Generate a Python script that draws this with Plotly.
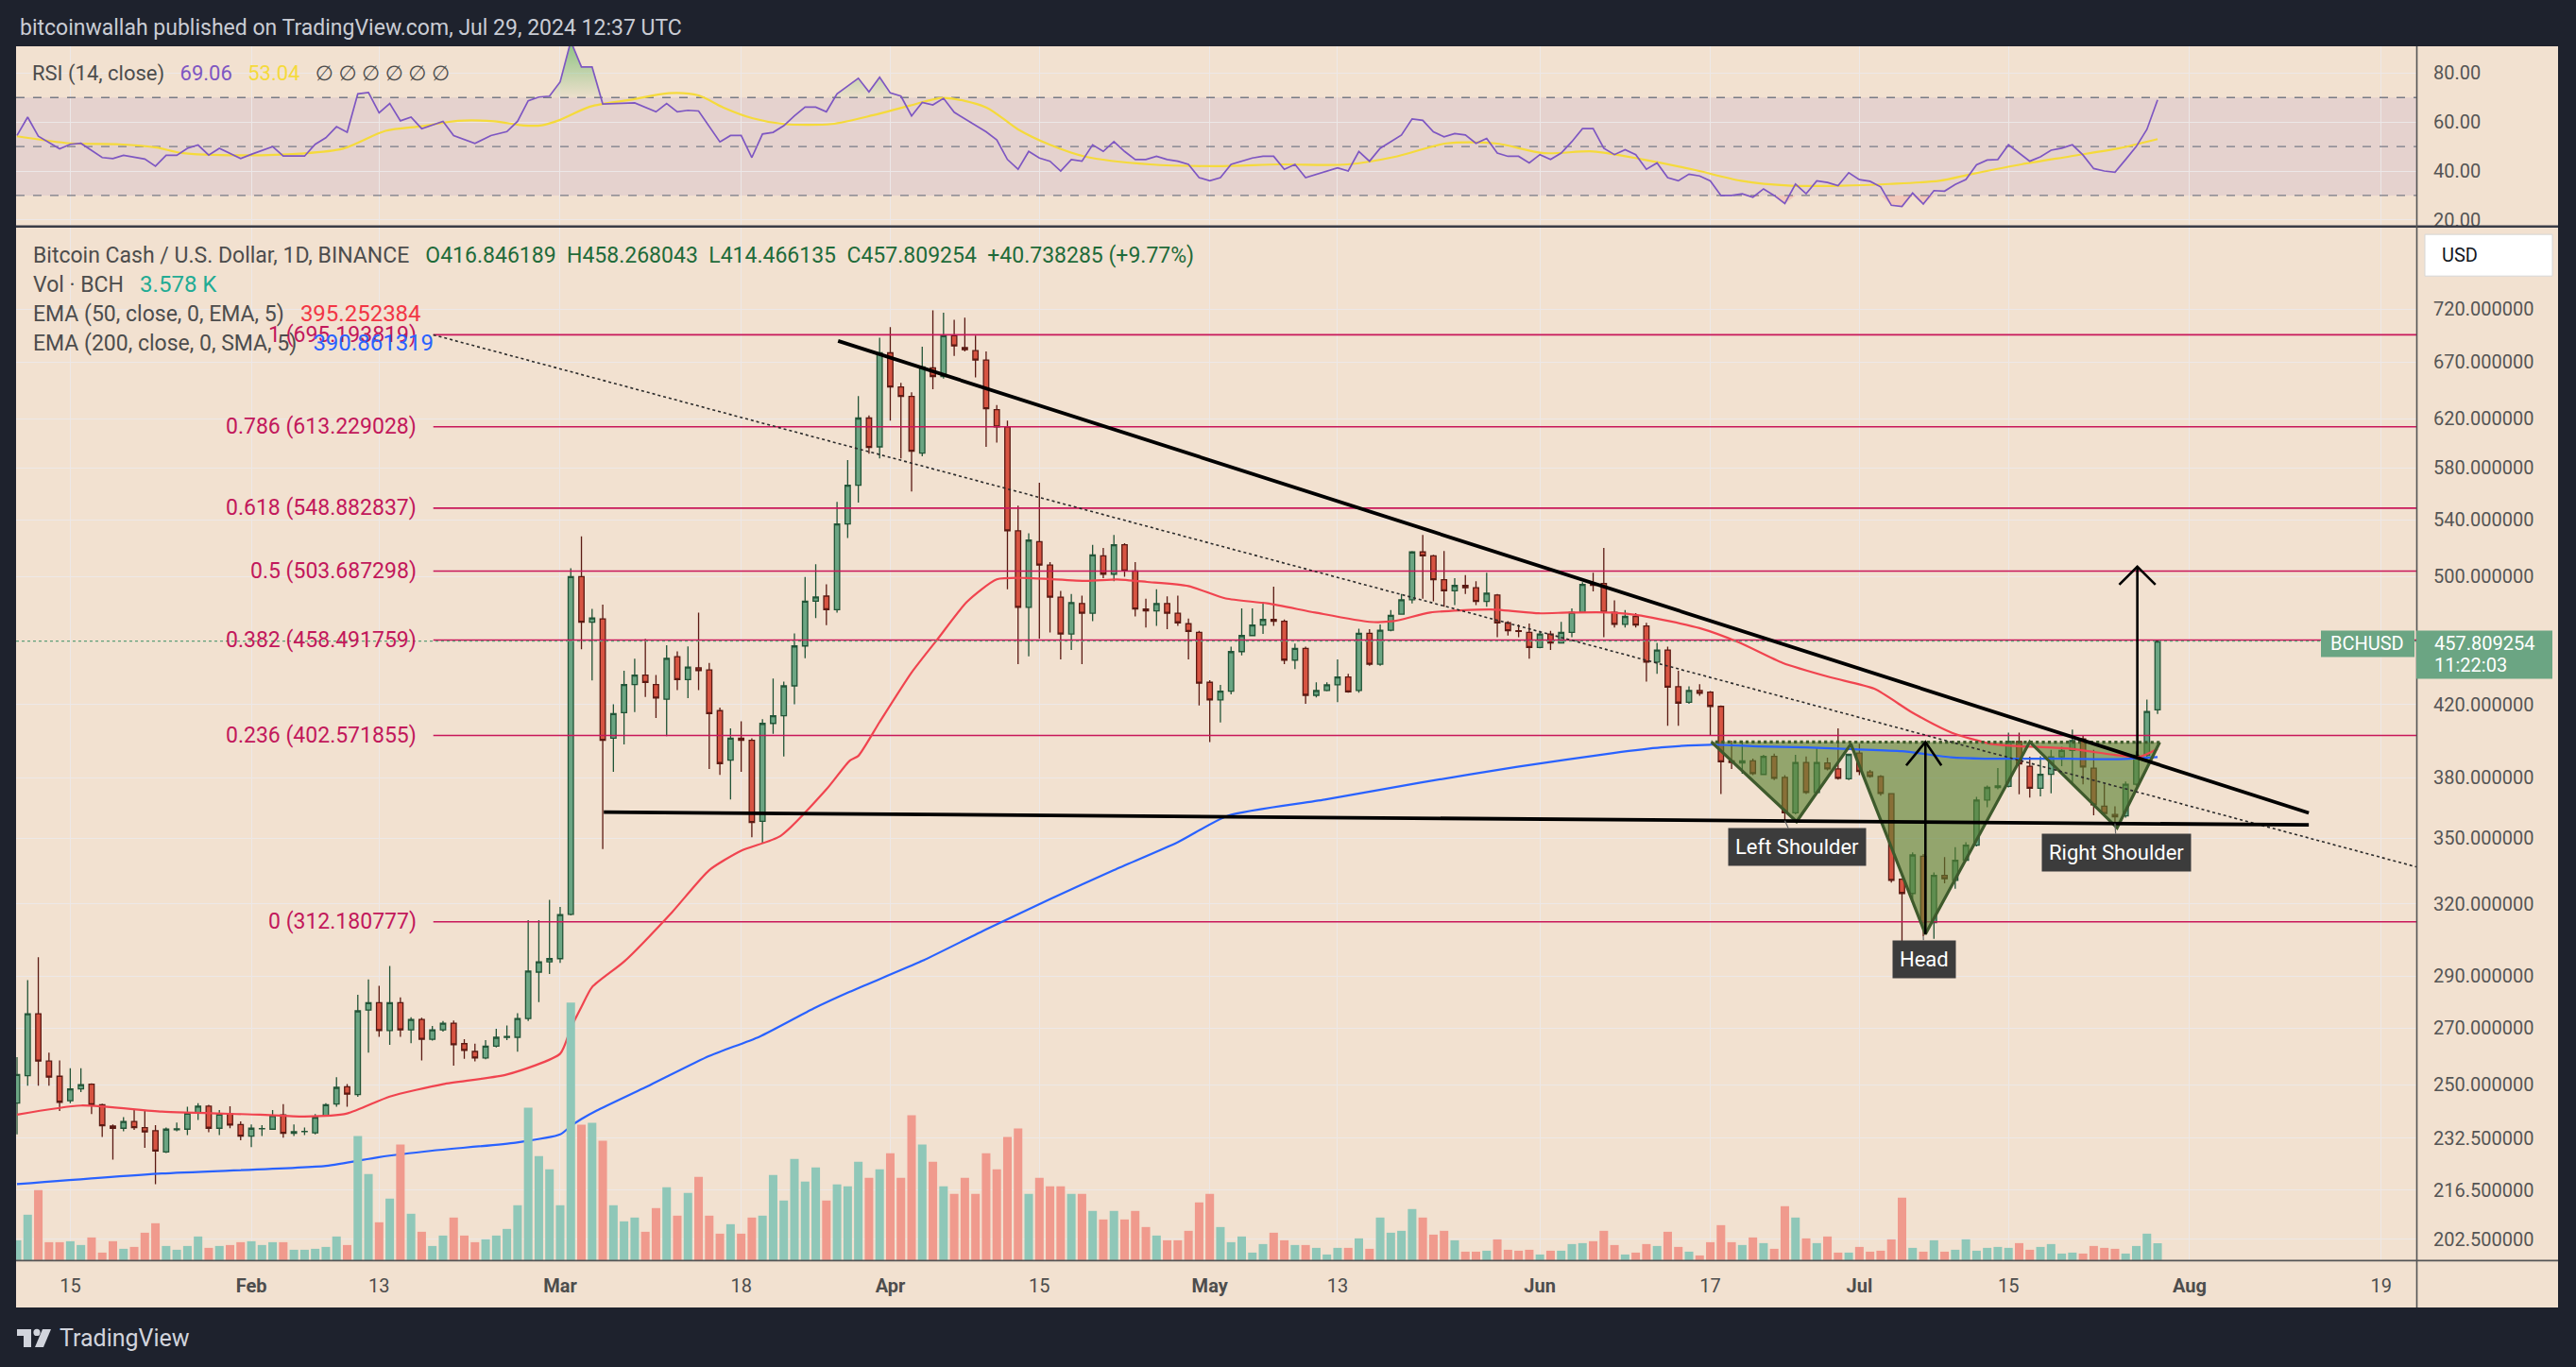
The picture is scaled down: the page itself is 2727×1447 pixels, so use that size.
import math
import pandas as pd
import plotly.graph_objects as go

W, H = 2727, 1447
H_FIG = 1455          # figure height; positions below are expressed on the 1447-px target grid
BG = "#F2E1D0"
FRAME = "#1E222D"
FONT = "Roboto, 'Noto Sans', 'DejaVu Sans', sans-serif"
BASE = pd.Timestamp("2024-01-15")

# ------------------------------------------------------------------ data
dates = pd.date_range("2024-01-10", "2024-07-29", freq="D")

opens = [
    243.8, 253.1, 275.4, 258.2, 252.9, 244.6, 248.6, 250.2, 243.3, 236.3, 235.6, 237.8, 235.8, 234.8, 228.1, 235.1, 235.3, 240.5, 242.8, 235.6, 240.2, 236.8,
    233.1, 235.4, 235.3, 239.9, 234.0, 234.5, 234.1, 239.7, 243.5, 249.3, 246.7, 276.8, 279.6, 269.2, 279.6, 269.4, 273.3, 266.0, 269.4, 271.9, 264.4, 261.6, 259.3, 263.5, 266.7, 266.7, 273.6, 291.5, 295.6,
    296.9, 315.4, 499.9, 469.8, 471.9, 401.1, 415.2, 431.5, 437.1, 431.5, 422.9, 448.2, 434.4, 441.4, 440.2, 416.4, 389.2, 401.1, 399.9, 358.1, 409.2, 413.5, 430.7, 454.8, 483.4, 486.8, 477.9, 537.1, 566.2, 620.6, 596.7,
    678.3, 647.5, 639.2, 591.6, 664.5, 656.8, 694.4, 683.2, 680.3, 671.7, 627.7, 613.1, 532.1, 479.4, 524.3, 507.8, 486.1, 462.3, 481.9, 475.6, 514.3, 501.6, 522.1, 503.8, 478.3, 477.1, 481.9, 475.6, 468.8, 463.3,
    432.8, 422.5, 427.6, 451.3, 461.3, 468.0, 471.5, 470.4, 446.1, 453.3, 425.2, 428.0, 431.3, 436.0, 428.0, 462.7, 443.6, 464.7, 475.0, 484.4, 517.0, 514.3, 497.8, 490.3, 493.9, 492.4, 483.3, 487.5, 469.4, 464.3, 463.3,
    453.9, 462.3, 456.7, 463.3, 476.2, 494.6, 495.3, 476.2, 468.4, 473.5, 467.4, 444.9, 452.3, 430.2, 421.2, 428.0, 427.1, 418.8, 388.8, 387.7, 388.8, 381.7, 391.2, 380.2, 362.2, 388.0, 372.4, 387.7, 384.6, 379.4,
    393.0, 383.0, 380.7, 371.8, 330.9, 324.5, 341.4, 311.9, 332.6, 330.4, 339.5, 346.6, 368.6, 375.0, 375.5, 399.3, 386.0, 374.6, 381.8, 391.0, 394.4, 400.6, 385.0, 365.5, 361.4, 360.7, 376.6, 391.9, 416.846189,
]
highs = [
    259.6, 288.3, 297.5, 261.2, 258.4, 255.7, 255.7, 250.5, 243.6, 236.8, 239.2, 241.5, 241.5, 236.6, 235.8, 237.4, 242.6, 243.8, 243.2, 241.5, 242.8, 237.8,
    236.8, 236.6, 241.5, 243.5, 236.8, 235.8, 240.2, 243.8, 252.6, 250.2, 282.6, 288.6, 286.1, 294.0, 281.6, 274.1, 273.9, 270.9, 272.7, 272.9, 266.0, 264.4, 265.7, 269.8, 271.0, 275.6, 312.9, 312.9, 321.7,
    318.6, 505.7, 528.2, 478.4, 481.2, 420.0, 439.7, 446.9, 459.2, 437.1, 455.3, 451.5, 454.5, 476.0, 444.4, 418.1, 406.4, 410.4, 401.0, 411.6, 435.1, 433.2, 462.6, 499.6, 508.4, 494.7, 553.5, 586.1, 639.5, 622.9, 692.4,
    702.6, 651.1, 642.8, 684.1, 718.7, 716.6, 709.6, 711.7, 694.4, 679.7, 631.8, 618.4, 550.7, 530.3, 568.2, 509.9, 490.3, 488.2, 487.1, 522.1, 519.8, 529.2, 523.2, 509.9, 485.0, 491.4, 486.7, 487.1, 472.1, 464.3,
    434.1, 431.3, 454.3, 478.7, 478.7, 482.9, 493.1, 471.5, 456.3, 454.3, 432.8, 432.8, 446.5, 437.9, 465.7, 465.3, 468.4, 477.7, 488.2, 517.7, 529.2, 515.0, 517.7, 498.8, 501.0, 496.7, 502.5, 488.2, 470.4, 468.4, 469.0,
    464.3, 464.3, 470.0, 478.7, 496.1, 502.5, 519.8, 484.0, 477.7, 475.6, 469.4, 456.7, 454.3, 439.7, 430.4, 431.7, 427.7, 419.4, 399.7, 399.7, 390.0, 392.0, 392.7, 381.3, 392.0, 391.2, 396.0, 390.5, 406.4, 392.7,
    398.0, 384.0, 381.3, 372.1, 331.1, 343.2, 342.4, 334.0, 341.0, 345.7, 348.0, 370.2, 376.0, 385.0, 404.1, 404.1, 391.0, 391.3, 394.7, 396.4, 405.8, 402.4, 394.7, 376.6, 365.5, 378.0, 393.9, 422.8, 458.268043,
]
lows = [
    233.6, 249.7, 249.7, 249.7, 241.2, 243.8, 247.5, 240.2, 232.8, 225.7, 234.6, 235.1, 229.4, 218.3, 227.8, 234.6, 233.4, 238.3, 234.3, 233.4, 235.6, 231.8,
    229.6, 233.1, 235.1, 232.6, 233.1, 233.4, 233.6, 239.5, 242.6, 242.6, 245.9, 261.2, 266.9, 264.0, 266.9, 264.6, 258.4, 265.5, 268.8, 256.6, 259.0, 258.1, 258.8, 263.0, 265.7, 261.5, 272.7, 279.8, 290.8,
    295.2, 314.9, 452.7, 433.9, 344.8, 383.1, 397.6, 415.6, 424.2, 412.3, 402.2, 428.2, 423.6, 428.2, 384.6, 381.5, 368.9, 383.1, 350.4, 347.3, 403.4, 391.2, 420.0, 447.2, 472.5, 467.9, 476.0, 526.9, 553.0, 591.1, 587.3,
    618.4, 587.3, 561.4, 589.0, 645.5, 655.0, 675.4, 679.7, 656.0, 596.7, 600.1, 491.4, 443.6, 448.4, 459.3, 463.3, 446.5, 452.3, 443.6, 470.4, 498.8, 496.7, 499.9, 473.5, 466.4, 467.4, 465.3, 467.4, 446.5, 419.4,
    398.9, 409.7, 425.8, 449.0, 461.0, 462.3, 467.4, 443.6, 440.7, 420.3, 423.9, 427.6, 421.2, 426.7, 426.7, 442.6, 442.6, 464.0, 474.5, 481.9, 485.0, 483.3, 479.8, 480.8, 488.2, 480.8, 479.8, 460.3, 461.3, 460.3, 446.9,
    453.3, 452.3, 456.3, 460.3, 475.6, 490.0, 460.3, 466.4, 466.4, 466.4, 433.2, 437.9, 407.9, 407.9, 420.3, 424.9, 402.7, 371.6, 384.6, 382.1, 381.3, 381.3, 378.8, 358.3, 361.5, 371.6, 372.0, 383.8, 379.0, 378.8,
    381.3, 380.0, 370.8, 329.4, 289.6, 322.0, 306.0, 305.0, 329.0, 326.6, 339.0, 346.0, 365.0, 374.0, 375.0, 371.5, 369.8, 370.5, 372.0, 386.0, 377.0, 376.6, 361.0, 361.4, 357.0, 359.9, 375.8, 389.7, 414.466135,
]
closes = [
    253.5, 275.4, 258.2, 252.6, 244.1, 248.6, 250.0, 243.3, 236.4, 235.6, 237.8, 235.8, 234.4, 228.4, 235.3, 235.4, 240.5, 242.8, 235.6, 240.2, 236.6, 233.1,
    235.6, 235.5, 239.7, 234.0, 234.5, 234.6, 239.2, 243.3, 249.1, 246.8, 276.5, 279.6, 269.2, 279.6, 269.4, 273.3, 266.0, 269.4, 271.9, 264.0, 262.0, 259.3, 263.5, 266.7, 267.0, 273.6, 291.9, 295.6, 296.9,
    315.3, 499.9, 469.8, 472.5, 399.9, 414.7, 431.5, 437.1, 432.7, 423.6, 447.2, 434.4, 441.9, 439.7, 414.7, 387.4, 401.1, 399.9, 357.5, 409.2, 413.5, 430.7, 454.8, 483.4, 486.2, 477.9, 537.1, 566.2, 620.6, 596.2, 678.3,
    647.5, 639.2, 593.1, 665.4, 656.8, 694.4, 684.7, 681.2, 671.7, 628.5, 613.1, 532.1, 479.4, 525.4, 507.8, 486.1, 462.3, 482.5, 475.6, 515.0, 501.6, 522.1, 503.8, 478.3, 477.1, 481.9, 475.6, 469.4, 463.9, 432.3,
    422.5, 427.6, 451.3, 461.3, 468.0, 471.5, 470.4, 446.1, 453.3, 425.2, 428.0, 431.3, 436.0, 427.2, 462.7, 443.6, 464.7, 474.2, 484.4, 517.0, 514.3, 497.8, 490.3, 493.9, 492.4, 483.3, 488.8, 469.4, 464.3, 463.9, 453.9,
    462.3, 456.7, 463.3, 476.2, 494.6, 494.0, 476.2, 468.4, 473.5, 468.0, 444.9, 452.3, 429.9, 420.7, 428.0, 426.4, 418.8, 388.3, 388.0, 388.8, 382.1, 391.2, 379.7, 362.2, 388.0, 372.4, 388.0, 384.6, 379.7, 392.3,
    383.3, 380.7, 371.9, 330.4, 324.5, 342.0, 311.9, 332.6, 331.1, 339.5, 346.6, 368.6, 375.0, 375.8, 399.3, 387.2, 374.6, 381.8, 391.0, 394.4, 399.8, 385.6, 366.2, 361.9, 360.3, 376.6, 391.9, 415.9, 457.809254,
]
volumes_k = [
    4.2, 9.6, 14.8, 3.8, 3.8, 4.0, 3.2, 4.8, 1.6, 4.0, 2.4, 2.8, 5.8, 7.8, 3.0, 2.2, 3.0, 5.0, 2.6, 3.0, 3.2, 3.8,
    4.0, 3.2, 3.8, 3.8, 2.2, 2.2, 2.4, 2.8, 5.0, 3.2, 26.2, 18.2, 8.0, 13.0, 24.4, 9.8, 6.0, 3.0, 5.2, 9.0, 5.2, 3.8, 4.4, 5.2, 6.6, 11.6, 32.2, 22.0, 19.2,
    11.6, 54.4, 28.6, 29.0, 25.2, 11.6, 8.2, 9.0, 6.0, 11.0, 15.4, 9.4, 14.2, 17.6, 9.4, 5.6, 7.6, 5.6, 9.0, 9.4, 18.0, 12.6, 21.4, 16.6, 19.6, 12.6, 16.0, 15.6, 20.8, 17.4, 19.2,
    22.6, 17.4, 30.6, 24.4, 20.8, 15.6, 14.0, 17.4, 14.0, 22.6, 19.2, 26.0, 27.8, 14.0, 17.4, 15.6, 15.6, 14.0, 14.0, 10.4, 8.6, 10.4, 8.6, 10.4, 7.0, 5.2, 4.2, 4.2, 6.2, 12.2,
    14.0, 7.0, 3.8, 5.0, 1.6, 3.4, 5.8, 4.2, 3.2, 3.2, 2.6, 1.2, 2.6, 2.6, 4.6, 2.4, 9.0, 5.8, 6.2, 10.8, 9.0, 5.4, 6.2, 4.2, 1.8, 1.8, 2.0, 4.4, 2.2, 2.0, 2.2,
    1.2, 2.0, 2.0, 3.4, 3.6, 4.0, 6.2, 3.2, 1.2, 1.6, 3.4, 3.0, 6.0, 2.8, 1.8, 1.0, 3.8, 7.4, 3.8, 3.2, 4.8, 3.6, 2.4, 11.4, 9.0, 4.6, 3.6, 5.0, 1.6, 1.6,
    2.8, 1.8, 2.0, 4.4, 13.2, 2.6, 1.8, 4.2, 1.8, 2.2, 4.4, 2.0, 2.6, 2.8, 2.6, 3.6, 2.2, 2.8, 3.4, 1.4, 1.6, 1.4, 3.0, 2.6, 2.4, 1.4, 3.0, 5.6, 3.578,
]

# indicator lines (day offset from 15 Jan 2024, value)
ema50_day = [-5, 1, 8.6, 17.8, 22, 26, 30, 35, 41, 46, 47, 48, 49, 52, 56.5, 60, 63, 66.7, 71, 73.2, 74, 76, 79, 81.4, 84.2, 87, 89.8,
             95.4, 98.3, 101.1, 105, 108.5, 112.4, 116.9, 122, 124.3, 127.7, 133.4, 137.9, 140.7, 144.7, 147.5, 153, 156.7, 160.8,
             165.3, 169.4, 173, 176.7, 180.3, 183, 187.5, 192, 194.3, 196]
ema50_val = [240, 243, 241, 240, 239.4, 240.4, 246, 250.2, 253.5, 260.8, 270, 278, 285.6, 295.7, 316.3, 335, 344, 351, 374, 389, 391.5, 410, 438.6, 458.7, 483, 498, 499,
             497, 498, 496.3, 493.5, 485.2, 482, 476, 470, 470.5, 476, 478, 475.5, 476, 476, 474, 466, 457, 444.4,
             435.7, 429, 415.2, 404, 398, 396.7, 395.5, 392, 391, 395.25]
ema200_day = [-5, 8.6, 24, 29, 34, 41.8, 46, 47, 48, 49.4, 54.5, 60, 64.7, 69.8, 73.2, 80, 86, 92, 98, 104, 108.7, 117.8, 126.8,
              135.9, 144.9, 149.4, 154, 158.5, 163, 167.6, 172, 176.6, 179.7, 187.5, 192, 196]
ema200_val = [218.3, 221.5, 223.8, 226.5, 228.5, 231, 233.6, 236.3, 238.6, 241.3, 250, 260, 266.9, 277.4, 283.8, 296, 309, 322, 335, 348, 360.8, 368.8, 377.5,
              385.7, 393, 396, 397.5, 396.6, 396, 395, 394, 390.7, 390, 390, 389.7, 390.86]

rsi_day = [-5, -4, -3, -1, 0, 1, 3, 4, 5, 7, 8, 9, 10, 11, 12, 13, 14, 16, 17, 19, 20, 22, 23, 24, 25, 26, 27, 28, 29, 30, 31, 32, 33,
           35, 36, 38, 39.5, 41, 42, 43, 44, 45, 46, 47, 48, 49, 50, 52, 53, 55, 56, 57, 58, 59, 61, 62, 63, 64, 65, 66, 67, 68, 69,
           70, 71, 72, 74, 75, 76, 77, 78, 79, 80, 81, 82, 83, 84, 86, 87, 88, 89, 90, 91, 92, 93, 94, 95, 96, 97, 98, 99, 100,
           101, 102, 103, 104, 105, 106, 107, 108, 109, 110, 111, 112, 113, 114, 115, 116, 117, 118, 119, 120, 121, 122, 123, 124,
           125, 126, 127, 128, 129, 130, 131, 132, 133, 134, 135, 136, 137, 138, 139, 140, 141, 142, 143, 144, 145, 146, 147, 148,
           149, 150, 151, 152, 153, 154, 155, 156, 157, 158, 159, 160, 161, 162, 163, 164, 165, 166, 167, 168, 169, 170, 171, 172,
           173, 174, 175, 176, 177, 178, 179, 180, 181, 182, 183, 184, 185, 186, 187, 188, 189, 190, 191, 192, 193, 194, 195, 196]
rsi_val = [54.5, 62, 54.2, 49.1, 50.9, 51.3, 45.5, 45.1, 46.4, 44.9, 42, 46.4, 46.4, 49.3, 50.6, 46.5, 49.3, 45.1, 46.8, 50, 46.1, 46.1, 50.9, 53.6, 58.1, 55.8, 71.5, 72.1, 63.8, 67.6, 60.5, 62, 57.3,
           60.3, 54.5, 51.3, 54.5, 56.1, 60.3, 68.7, 70.2, 70.6, 76.4, 93, 82.5, 82.5, 67.4, 67.6, 67.8, 64.2, 67.6, 64.2, 64.8, 64.5, 51.9, 54.5, 54.5, 45.5, 55.1, 55.8, 58.5, 62.5, 66.1,
           66.1, 64.2, 71.5, 77.9, 72.3, 78.3, 71.9, 70.6, 62.5, 68, 67, 69.7, 64, 61.3, 56, 52.7, 44.7, 40.7, 48, 45.3, 44, 40, 44.7, 44, 50.7, 48, 52, 48, 44.7,
           44.7, 46, 44.7, 44, 42.7, 37.3, 36, 37.3, 42.7, 44, 45.3, 46, 46, 40.7, 42.7, 37.3, 38.7, 40, 41.3, 40, 48, 44, 49.3, 52,
           54.7, 61.3, 60.7, 56, 54, 55.3, 54.7, 51.3, 53.3, 47.3, 46, 46, 43.3, 46.7, 44.7, 47.3, 52, 57.3, 57.3, 49.3, 46.7, 48.7, 46.7, 40.7,
           43.3, 37.3, 36, 38.7, 38, 36, 30, 30, 30.7, 29.3, 32.7, 30, 26.7, 34.7, 30.7, 36, 35.3, 34, 39.3, 36.5, 35.8, 33.5, 26, 25.5,
           31, 26.5, 32, 31.8, 34.5, 36.5, 42.5, 44.5, 44.7, 50.7, 47.3, 44, 45.8, 48.5, 49.3, 50.7, 46.5, 41, 40, 39.5, 44.7, 50, 57, 69.06]
rsima_day = [-5, 0, 4.6, 8.1, 10.4, 16, 21.6, 25.6, 29.6, 33, 36.4, 39.8, 42.6, 44.3, 46, 48.8, 52.8, 56.2, 59, 61.3, 64.1, 67, 71.5,
             75.4, 78.8, 82, 86, 89, 92, 95.2, 101.4, 107.6, 113.7, 119.9, 124.6, 129.2, 133.8, 138.4, 143, 147.7, 152.3, 156.9,
             161.6, 166.2, 170.8, 175.5, 178.5, 183.2, 187.8, 192.4, 196]
rsima_val = [54.2, 51.3, 50.9, 49.6, 47.4, 46.4, 47.1, 49.1, 56.4, 58.3, 60.5, 60.3, 58.6, 58.7, 60.9, 66.3, 69.2, 71.8, 70.9, 66, 61.5, 59.2, 59.2,
             62.8, 66.7, 69.9, 66, 57, 50.7, 46, 42.7, 42, 42.7, 42.7, 46, 51.3, 51.3, 47.3, 48, 44.7, 40.7, 36,
             34, 34, 34.7, 36, 38.7, 42.7, 46, 49.3, 53.04]

fib_ratio = ["1", "0.786", "0.618", "0.5", "0.382", "0.236", "0"]
fib_price = [695.193819, 613.229028, 548.882837, 503.687298, 458.491759, 402.571855, 312.180777]

price_ticks = [720, 670, 620, 580, 540, 500, 420, 380, 350, 320, 290, 270, 250, 232.5, 216.5, 202.5]
rsi_ticks = [20, 40, 60, 80]
rsi_bands = [70, 50, 30]
time_ticks = ["2024-01-15", "2024-02-01", "2024-02-13", "2024-03-01", "2024-03-18", "2024-04-01", "2024-04-15",
              "2024-05-01", "2024-05-13", "2024-06-01", "2024-06-17", "2024-07-01", "2024-07-15", "2024-08-01", "2024-08-19"]
time_labels = ["15", "<b>Feb</b>", "13", "<b>Mar</b>", "18", "<b>Apr</b>", "15", "<b>May</b>", "13", "<b>Jun</b>", "17",
               "<b>Jul</b>", "15", "<b>Aug</b>", "19"]

# drawings (day offset from 15 Jan, price)
desc_day, desc_price = [72.1, 210.2], [689.4, 362.2]
neck_day, neck_price = [50.1, 210.2], [362.6, 356.3]
diag_day, diag_price = [34.09, 220.3], [695.193819, 336.5]
hs_day = [154.1, 162.1, 167.2, 174.2, 184.0, 192.2, 196.2]
hs_price = [399.0, 357.9, 397.8, 307.0, 399.0, 354.9, 398.8]
arrow1_day, arrow1_price = [174.2, 174.2], [307.0, 399.0]
head1_day, head1_price = [172.4, 174.2, 175.7], [386.4, 399.0, 386.4]
arrow2_day, arrow2_price = [194.1, 194.1], [391.5, 506.8]
head2_day, head2_price = [192.4, 194.1, 195.8], [494.5, 506.8, 494.5]
labels_text = ["Left Shoulder", "Head", "Right Shoulder"]
labels_day = [161, 174, 192]
labels_price = [358.3, 306.0, 357.0]

last_close = 457.809254
X_LEFT_DAY, X_RIGHT_DAY = -5.09, 220.3


# ------------------------------------------------------------------ helpers
def t(d):
    return BASE + pd.Timedelta(seconds=int(round(86400 * d)))


def ts(days):
    return [t(d) for d in days]


def px(x, y):
    return x / W, 1 - y / H


def note(x, y, text, size=19, color="#4d4d4d", xanchor="left", yanchor="middle", **kw):
    xx, yy = px(x, y)
    return dict(x=xx, y=yy, xref="paper", yref="paper", text=text, showarrow=False,
                xanchor=xanchor, yanchor=yanchor, font=dict(family=FONT, size=size, color=color), **kw)


def rect(x0, y0, x1, y1, fill, line=None, layer="below"):
    a0, b0 = px(x0, y0)
    a1, b1 = px(x1, y1)
    return dict(type="rect", xref="paper", yref="paper", x0=a0, y0=b1, x1=a1, y1=b0,
                fillcolor=fill, line=dict(width=0) if line is None else line, layer=layer)


def hline_px(x0, x1, y, color, width):
    a0, b = px(x0, y)
    a1, _ = px(x1, y)
    return dict(type="line", xref="paper", yref="paper", x0=a0, x1=a1, y0=b, y1=b,
                line=dict(color=color, width=width), layer="above")


def vline_px(x, y0, y1, color, width):
    a, b0 = px(x, y0)
    _, b1 = px(x, y1)
    return dict(type="line", xref="paper", yref="paper", x0=a, x1=a, y0=b0, y1=b1,
                line=dict(color=color, width=width), layer="above")


fig = go.Figure()

# volume
vol_colors = ["#8FC7B8" if c >= o else "#F09A8D" for o, c in zip(opens, closes)]
fig.add_trace(go.Bar(x=dates, y=volumes_k, marker=dict(color=vol_colors, line=dict(width=0)),
                     width=0.8 * 86400000, xaxis="x", yaxis="y3", hoverinfo="skip"))

# fib levels
for r, p in zip(fib_ratio, fib_price):
    fig.add_trace(go.Scatter(x=[t(34.09), t(X_RIGHT_DAY)], y=[p, p], mode="lines",
                             line=dict(color="#C8175A", width=1.6), hoverinfo="skip"))

# pattern polygon
fig.add_trace(go.Scatter(x=ts(hs_day + [hs_day[0]]), y=hs_price + [hs_price[0]], mode="lines",
                         fill="toself", fillcolor="rgba(88,128,48,0.62)", line=dict(width=0), hoverinfo="skip"))

# candles
fig.add_trace(go.Candlestick(
    x=dates, open=opens, high=highs, low=lows, close=closes,
    increasing=dict(line=dict(color="#225437", width=1.3), fillcolor="#6BA583"),
    decreasing=dict(line=dict(color="#5B1A13", width=1.3), fillcolor="#D75442"),
    whiskerwidth=0, hoverinfo="skip"))

# EMAs
fig.add_trace(go.Scatter(x=ts(ema200_day), y=ema200_val, mode="lines", line=dict(color="#2962FF", width=2.2, shape="spline", smoothing=0.6), hoverinfo="skip"))
fig.add_trace(go.Scatter(x=ts(ema50_day), y=ema50_val, mode="lines", line=dict(color="#F0444F", width=2.2, shape="spline", smoothing=0.6), hoverinfo="skip"))

# pattern outline
fig.add_trace(go.Scatter(x=ts(hs_day), y=hs_price, mode="lines", line=dict(color="#3E5A2C", width=3.2), hoverinfo="skip"))
fig.add_trace(go.Scatter(x=ts([hs_day[-1], hs_day[0]]), y=[hs_price[-1], hs_price[0]], mode="lines",
                         line=dict(color="#3E5A2C", width=3.2, dash="dot"), hoverinfo="skip"))

# last price dotted line
fig.add_trace(go.Scatter(x=[t(X_LEFT_DAY), t(X_RIGHT_DAY)], y=[last_close, last_close], mode="lines",
                         line=dict(color="#5E9E78", width=1.2, dash="dot"), hoverinfo="skip"))

# trend lines
fig.add_trace(go.Scatter(x=ts(diag_day), y=diag_price, mode="lines", line=dict(color="#2b2b2b", width=1.6, dash="dot"), hoverinfo="skip"))
fig.add_trace(go.Scatter(x=ts(desc_day), y=desc_price, mode="lines", line=dict(color="#000000", width=3.8), hoverinfo="skip"))
fig.add_trace(go.Scatter(x=ts(neck_day), y=neck_price, mode="lines", line=dict(color="#000000", width=3.8), hoverinfo="skip"))

# arrows
for dd, pp in [(arrow1_day, arrow1_price), (head1_day, head1_price), (arrow2_day, arrow2_price), (head2_day, head2_price)]:
    fig.add_trace(go.Scatter(x=ts(dd), y=pp, mode="lines", line=dict(color="#000000", width=2.6), hoverinfo="skip"))

# RSI
xr = [t(X_LEFT_DAY), t(X_RIGHT_DAY)]
for lvl in rsi_bands:
    fig.add_trace(go.Scatter(x=xr, y=[lvl, lvl], xaxis="x2", yaxis="y2", mode="lines",
                             line=dict(color="#787B86", width=1.3, dash="dash"), hoverinfo="skip"))
rsi_x = ts(rsi_day)
fig.add_trace(go.Scatter(x=rsi_x, y=[70] * len(rsi_val), xaxis="x2", yaxis="y2", mode="lines",
                         line=dict(width=0), hoverinfo="skip"))
fig.add_trace(go.Scatter(x=rsi_x, y=[max(v, 70) for v in rsi_val], xaxis="x2", yaxis="y2", mode="lines",
                         line=dict(width=0), fill="tonexty",
                         fillgradient=dict(type="vertical", start=70, stop=92,
                                           colorscale=[[0, "rgba(76,175,80,0.03)"], [1, "rgba(76,175,80,0.6)"]]),
                         hoverinfo="skip"))
fig.add_trace(go.Scatter(x=rsi_x, y=[30] * len(rsi_val), xaxis="x2", yaxis="y2", mode="lines",
                         line=dict(width=0), hoverinfo="skip"))
fig.add_trace(go.Scatter(x=rsi_x, y=[min(v, 30) for v in rsi_val], xaxis="x2", yaxis="y2", mode="lines",
                         line=dict(width=0), fill="tonexty", fillcolor="rgba(242,54,69,0.15)", hoverinfo="skip"))
fig.add_trace(go.Scatter(x=ts(rsima_day), y=rsima_val, xaxis="x2", yaxis="y2", mode="lines",
                         line=dict(color="#F5DA3B", width=2.2, shape="spline", smoothing=0.8), hoverinfo="skip"))
fig.add_trace(go.Scatter(x=rsi_x, y=rsi_val, xaxis="x2", yaxis="y2", mode="lines",
                         line=dict(color="#7E57C2", width=1.7), hoverinfo="skip"))

# ------------------------------------------------------------------ layout
XD = [17 / W, 2558 / W]
MAIN = [1 - 1333 / H, 1 - 241 / H]
RSI = [1 - 238 / H, 1 - 49 / H]
GRID = "rgba(236,232,232,0.95)"

fig.update_layout(
    width=W, height=H_FIG, margin=dict(l=0, r=0, t=0, b=0),
    paper_bgcolor=FRAME, plot_bgcolor="rgba(0,0,0,0)", showlegend=False,
    font=dict(family=FONT),
    xaxis=dict(domain=XD, anchor="y", type="date", range=xr, rangeslider=dict(visible=False),
               tickmode="array", tickvals=time_ticks, ticktext=time_labels, ticks="",
               tickfont=dict(size=20, color="#4d4d4d", family=FONT), ticklabelstandoff=13,
               showgrid=True, gridcolor=GRID, gridwidth=1.4, zeroline=False, showline=False),
    yaxis=dict(domain=MAIN, anchor="x", type="log", side="right",
               range=[math.log10(196.8), math.log10(804.4)],
               tickmode="array", tickvals=price_ticks, ticktext=[f"{v:.6f}" for v in price_ticks],
               ticks="", tickfont=dict(size=20, color="#555555", family=FONT), ticklabelstandoff=17,
               showgrid=True, gridcolor=GRID, gridwidth=1.4, zeroline=False, showline=False),
    yaxis3=dict(overlaying="y", anchor="x", range=[0, 218], visible=False),
    xaxis2=dict(domain=XD, anchor="y2", type="date", range=xr, tickmode="array", tickvals=time_ticks,
                showticklabels=False, ticks="", showgrid=True, gridcolor=GRID, gridwidth=1.4,
                zeroline=False, showline=False),
    yaxis2=dict(domain=RSI, anchor="x2", side="right", range=[17.95, 90.93],
                tickmode="array", tickvals=rsi_ticks, ticktext=[f"{v:.2f}" for v in rsi_ticks], ticks="",
                tickfont=dict(size=20, color="#555555", family=FONT), ticklabelstandoff=17,
                showgrid=True, gridcolor=GRID, gridwidth=1.4, zeroline=False, showline=False),
)

shapes = [
    rect(17, 49, 2708, 1383, BG),
    dict(type="rect", xref="x2 domain", yref="y2", x0=0, x1=1, y0=30, y1=70,
         fillcolor="rgba(126,87,194,0.11)", line=dict(width=0), layer="below"),
    hline_px(17, 2708, 239.5, "#3a3d47", 2.5),
    hline_px(17, 2708, 1333.5, "#555555", 1.6),
    vline_px(2558.5, 49, 1383, "#555555", 1.6),
    # price tags
    rect(2457, 667, 2556, 695, "#6BA583", layer="above"),
    rect(2558, 667, 2702, 718, "#6BA583", layer="above"),
    rect(2567, 248, 2702, 292, "#FFFFFF", line=dict(color="#D6D6D6", width=1), layer="above"),
    # TradingView logo
    rect(18, 1406, 33, 1413, "#D1D4DC", layer="above"),
    rect(25, 1406, 33, 1425, "#D1D4DC", layer="above"),
]
cx, cy = px(39, 1409.5)
r = 3.6
shapes.append(dict(type="circle", xref="paper", yref="paper", x0=cx - r / W, x1=cx + r / W,
                   y0=cy - r / H, y1=cy + r / H, fillcolor="#D1D4DC", line=dict(width=0), layer="above"))
p1, p2, p3, p4 = px(45, 1406), px(54, 1406), px(46, 1425), px(37, 1425)
shapes.append(dict(type="path", xref="paper", yref="paper",
                   path=f"M{p1[0]},{p1[1]} L{p2[0]},{p2[1]} L{p3[0]},{p3[1]} L{p4[0]},{p4[1]} Z",
                   fillcolor="#D1D4DC", line=dict(width=0), layer="above"))
fig.update_layout(shapes=shapes)

NB = "\u00a0"
G = "#1F6B3A"
SEP = NB * 2


def num(txt, color, size=23):
    return f"<span style='color:{color};font-size:{size}px'>{txt}</span>"


ann = [
    note(19, 29, "bitcoinwallah published on TradingView.com, Jul 29, 2024 12:37 UTC", 23, "#C9CCD4"),
    note(32, 78, "RSI (14, close)" + NB * 3 + "<span style='color:#7E57C2'>69.06</span>" + NB * 3 +
         "<span style='color:#F5DA3B'>53.04</span>" + NB * 3 + NB.join(["∅"] * 6), 22, "#4d4d4d"),
    note(33, 270, "Bitcoin Cash / U.S. Dollar, 1D, BINANCE" + NB * 3 + num("O416.846189", G) + SEP +
         num("H458.268043", G) + SEP + num("L414.466135", G) + SEP + num("C457.809254", G) + SEP +
         num("+40.738285 (+9.77%)", G), 23, "#4d4d4d"),
    note(33, 301, "Vol · BCH" + NB * 3 + num("3.578 K", "#22AB94", 24), 23, "#4d4d4d"),
    note(33, 332, "EMA (50, close, 0, EMA, 5)" + NB * 3 + num("395.252384", "#F23645", 24), 23, "#4d4d4d"),
]
for r_, p_ in zip(fib_ratio, fib_price):
    ann.append(dict(x=443 / W, xref="paper", y=math.log10(p_), yref="y", text=f"{r_} ({p_:.6f})",
                    showarrow=False, xanchor="right", yanchor="middle",
                    font=dict(family=FONT, size=23, color="#C2185B")))
ann.append(note(33, 363, "EMA (200, close, 0, SMA, 5)" + NB * 3 + num("390.861319", "#2962FF", 24), 23, "#4d4d4d"))
ann += [
    note(2506, 681, "BCHUSD", 20, "#FFFFFF", xanchor="center"),
    note(2575, 681, "457.809254", 20, "#FFFFFF"),
    note(2575, 704, "11:22:03", 20, "#FFFFFF"),
    note(2583, 270, "USD", 20, "#131722"),
    note(61, 1416, "TradingView", 25, "#D1D4DC"),
]
offsets = [(13, 28), (1, 24), (2, 31)]
for txt, d_, p_, (ax_, ay_) in zip(labels_text, labels_day, labels_price, offsets):
    ann.append(dict(x=t(d_), y=math.log10(p_), xref="x", yref="y", text=txt, showarrow=True,
                    arrowhead=0, arrowwidth=1.2, arrowcolor="#6b6b6b", ax=ax_, ay=ay_, standoff=0,
                    bgcolor="#3C3C3C", borderpad=7, font=dict(family=FONT, size=22, color="#FFFFFF")))
fig.update_layout(annotations=ann)

fig.write_html(
    "out.html",
    post_script="document.documentElement.style.background='#1E222D';"
                "document.body.style.background='#1E222D';document.body.style.margin='0';",
)
